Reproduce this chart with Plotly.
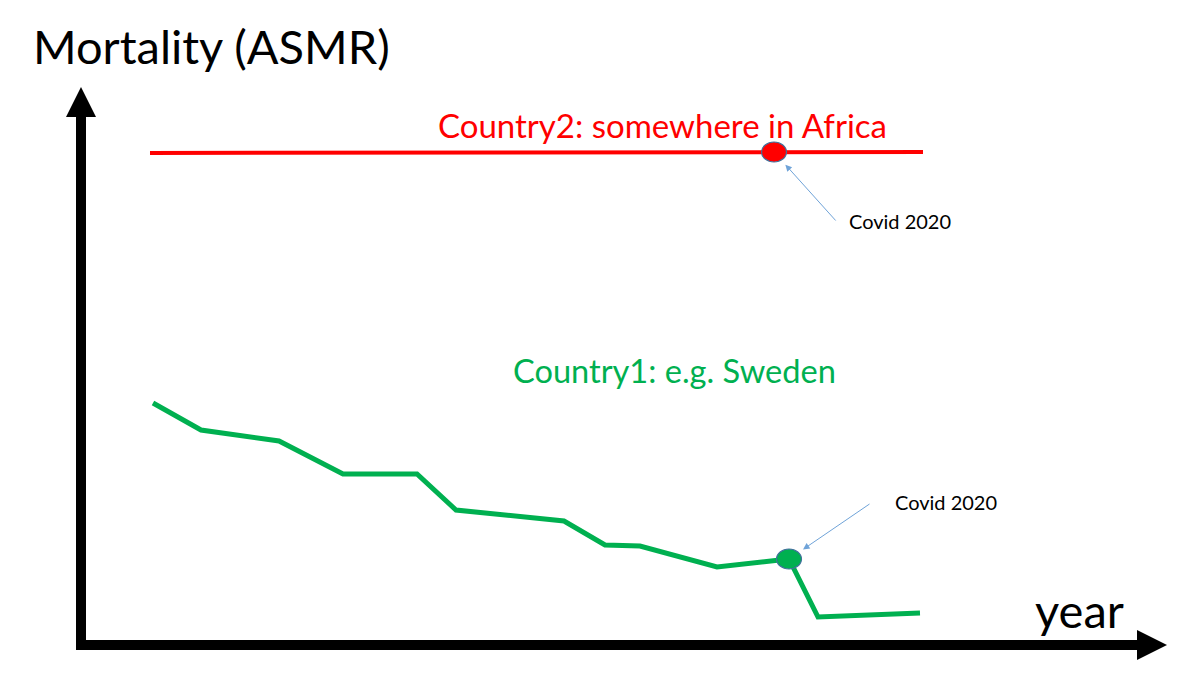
import plotly.graph_objects as go

# ---- data (arbitrary schematic units) ----
sweden_t = [7.2, 12.0, 19.8, 26.2, 33.6, 37.5, 48.3, 52.4, 55.9, 63.6, 70.8, 73.7, 83.9]
sweden_asmr = [48.4, 43.0, 40.8, 34.2, 34.2, 27.0, 24.8, 20.0, 19.8, 15.6, 17.2, 5.6, 6.4]
sweden_covid_index = 10

africa_t = [6.9, 84.2]
africa_asmr = [98.4, 98.6]
africa_covid_t = 69.3
africa_covid_asmr = 98.6

W, H = 1200, 677
XR = [-8.1, 111.9]
YR = [-6.4, 129.0]

RED = "#FF0000"
GREEN = "#00B050"
ARROW_BLUE = "#6FA3D8"
EDGE = "#41719C"
FONT = "Lato"

fig = go.Figure()
fig.add_trace(go.Scatter(x=africa_t, y=africa_asmr, mode="lines",
                         line=dict(color=RED, width=4), hoverinfo="skip"))
fig.add_trace(go.Scatter(x=sweden_t, y=sweden_asmr, mode="lines",
                         line=dict(color=GREEN, width=5), hoverinfo="skip"))

def px_x(dx):
    return dx * (XR[1] - XR[0]) / W

def px_y(dy):
    return dy * (YR[1] - YR[0]) / H

shapes = []
# covid markers (ellipses)
for (cx, cy, col) in [(africa_covid_t, africa_covid_asmr, RED),
                      (sweden_t[sweden_covid_index], sweden_asmr[sweden_covid_index], GREEN)]:
    shapes.append(dict(type="circle", xref="x", yref="y",
                       x0=cx - px_x(12.5), x1=cx + px_x(12.5),
                       y0=cy - px_y(10), y1=cy + px_y(10),
                       fillcolor=col, line=dict(color=EDGE, width=1.2)))

# axis arrows
shapes.append(dict(type="line", xref="x", yref="y", x0=0, x1=0,
                   y0=-px_y(5), y1=YR[1] - px_y(117), line=dict(color="black", width=10)))
shapes.append(dict(type="path", xref="x", yref="y",
                   path=f"M {-px_x(15)} {YR[1]-px_y(117)} L {px_x(15)} {YR[1]-px_y(117)} L 0 {YR[1]-px_y(87)} Z",
                   fillcolor="black", line=dict(width=0)))
shapes.append(dict(type="line", xref="x", yref="y", x0=-px_x(5), x1=XR[0] + px_x(1137),
                   y0=0, y1=0, line=dict(color="black", width=10)))
shapes.append(dict(type="path", xref="x", yref="y",
                   path=f"M {XR[0]+px_x(1137)} {px_y(15)} L {XR[0]+px_x(1137)} {-px_y(15)} L {XR[0]+px_x(1167)} 0 Z",
                   fillcolor="black", line=dict(width=0)))

annotations = [
    dict(text="Mortality (ASMR)", x=31 / W, y=1 - 46 / H, xref="paper", yref="paper",
         xanchor="left", yanchor="middle", showarrow=False,
         font=dict(family=FONT, size=47, color="black")),
    dict(text="year", x=1033 / W, y=1 - 610 / H, xref="paper", yref="paper",
         xanchor="left", yanchor="middle", showarrow=False,
         font=dict(family=FONT, size=47, color="black")),
    dict(text="Country2: somewhere in Africa", x=436 / W, y=1 - 125 / H, xref="paper", yref="paper",
         xanchor="left", yanchor="middle", showarrow=False,
         font=dict(family=FONT, size=33, color=RED)),
    dict(text="Country1: e.g. Sweden", x=511 / W, y=1 - 370 / H, xref="paper", yref="paper",
         xanchor="left", yanchor="middle", showarrow=False,
         font=dict(family=FONT, size=32.6, color=GREEN)),
    dict(text="Covid 2020", x=847 / W, y=1 - 221 / H, xref="paper", yref="paper",
         xanchor="left", yanchor="middle", showarrow=False,
         font=dict(family=FONT, size=20, color="black")),
    dict(text="Covid 2020", x=893 / W, y=1 - 502 / H, xref="paper", yref="paper",
         xanchor="left", yanchor="middle", showarrow=False,
         font=dict(family=FONT, size=20, color="black")),
    # pointer arrows
    dict(text="", x=africa_covid_t, y=africa_covid_asmr, xref="x", yref="y",
         showarrow=True, ax=63, ay=70, standoff=17, arrowhead=2, arrowsize=1.3,
         arrowwidth=1, arrowcolor=ARROW_BLUE),
    dict(text="", x=sweden_t[sweden_covid_index], y=sweden_asmr[sweden_covid_index], xref="x", yref="y",
         showarrow=True, ax=82, ay=-56, standoff=17, arrowhead=2, arrowsize=1.3,
         arrowwidth=1, arrowcolor=ARROW_BLUE),
]

fig.update_layout(
    width=W, height=H, margin=dict(l=0, r=0, t=0, b=0),
    paper_bgcolor="white", plot_bgcolor="white", showlegend=False,
    xaxis=dict(range=XR, visible=False, fixedrange=True),
    yaxis=dict(range=YR, visible=False, fixedrange=True),
    shapes=shapes, annotations=annotations,
)

fig.write_html("out.html", config={"displayModeBar": False},
               post_script="document.body.style.margin='0';document.body.style.overflow='hidden';")
